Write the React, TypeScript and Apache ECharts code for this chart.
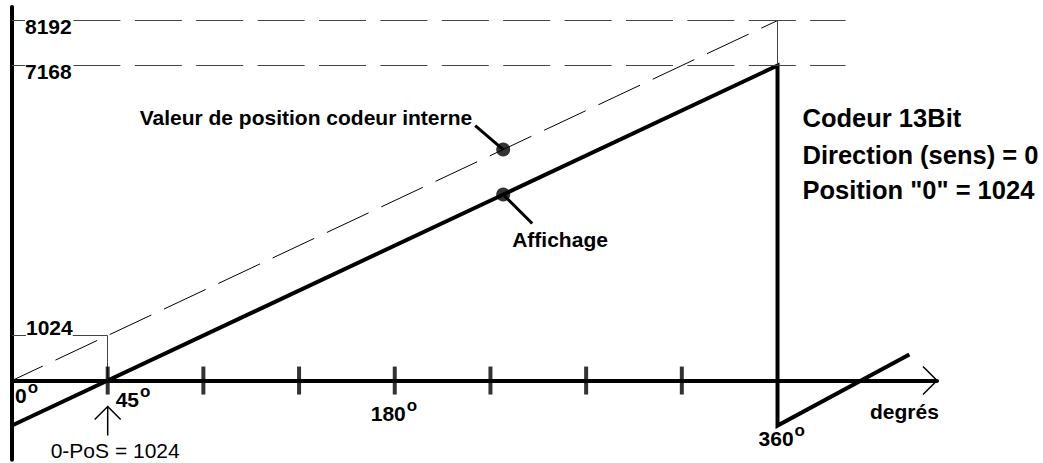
import React, { useEffect, useRef } from 'react';
import * as echarts from 'echarts';

// Degrees along the horizontal axis
const tickDegrees = [45, 90, 135, 180, 225, 270, 315];
const degreeLabelValues = [0, 45, 180, 360];
const degreeLabelTexts = ['0', '45', '180', '360'];

// "Affichage" (displayed value) – thick solid line
const displayDegrees = [0, 360, 360, 422];
const displayValues = [-1024, 7168, -1024, 590];

// "Valeur de position codeur interne" – thin dashed line
const internalDegrees = [0, 360];
const internalValues = [0, 8192];

// Horizontal reference levels
const levelValues = [8192, 7168];
const levelTexts = ['8192', '7168'];
const levelEndDegree = 392;

// Zero position offset
const zeroPosValue = 1024;
const zeroPosText = '1024';
const zeroPosDegree = 45;
const zeroPosCaption = '0-PoS = 1024';

// Marker dots on the two lines
const markerDegree = 231;
const markerInternalValue = 5257;
const markerDisplayValue = 4233;

const infoLines = ['Codeur 13Bit', 'Direction (sens) = 0', 'Position "0" = 1024'];
const internalLabel = 'Valeur de position codeur interne';
const displayLabel = 'Affichage';
const axisTitle = 'degrés';

const X_MIN = 0;
const X_MAX = 435;
const Y_MIN = -1800;
const Y_MAX = 8500;

export default function App() {
  const ref = useRef<HTMLDivElement>(null);

  useEffect(() => {
    if (!ref.current) return;
    const chart = echarts.init(ref.current, null, { renderer: 'svg' });
    const FONT = '"Liberation Sans", Arial, Helvetica, sans-serif';
    const bold = (s: number) => `bold ${s}px ${FONT}`;
    const guideColor = '#444';

    const gridTop = 7;
    const gridHeight = ((Y_MAX - Y_MIN) * 45) / 1024;
    const gridBottom = 463 - gridTop - gridHeight;

    const option: any = {
      animation: false,
      backgroundColor: '#fff',
      grid: {
        left: 12,
        right: 106,
        top: gridTop,
        bottom: gridBottom,
        containLabel: false,
        outerBoundsMode: 'none',
      },
      xAxis: {
        type: 'value',
        min: X_MIN,
        max: X_MAX,
        axisLine: { show: true, onZero: true, lineStyle: { color: '#000', width: 4 } },
        axisTick: { show: false },
        axisLabel: { show: false },
        splitLine: { show: false },
      },
      yAxis: {
        type: 'value',
        min: Y_MIN,
        max: Y_MAX,
        axisLine: { show: true, onZero: true, lineStyle: { color: '#000', width: 4 } },
        axisTick: { show: false },
        axisLabel: { show: false },
        splitLine: { show: false },
      },
      series: [
        {
          type: 'line',
          name: internalLabel,
          silent: true,
          symbol: 'none',
          data: internalDegrees.map((d, i) => [d, internalValues[i]]),
          lineStyle: { color: '#000', width: 1, type: [46, 14], dashOffset: 12 },
          z: 3,
          markLine: {
            silent: true,
            symbol: ['none', 'none'],
            label: { show: false },
            emphasis: { disabled: true },
            lineStyle: { color: guideColor, width: 1, type: [47, 14.4] },
            data: [
              ...levelValues.map((v) => [{ coord: [0, v] }, { coord: [levelEndDegree, v] }]),
              [
                { coord: [0, zeroPosValue], lineStyle: { type: 'solid', color: guideColor, width: 1 } },
                { coord: [zeroPosDegree, zeroPosValue] },
              ],
              [
                { coord: [zeroPosDegree, zeroPosValue], lineStyle: { type: 'solid', color: guideColor, width: 1 } },
                { coord: [zeroPosDegree, 0] },
              ],
              [
                { coord: [360, levelValues[0]], lineStyle: { type: 'solid', color: guideColor, width: 1 } },
                { coord: [360, levelValues[1]] },
              ],
            ],
          },
        },
        {
          type: 'line',
          name: displayLabel,
          silent: true,
          symbol: 'none',
          data: displayDegrees.map((d, i) => [d, displayValues[i]]),
          lineStyle: { color: '#000', width: 4, join: 'miter' },
          z: 4,
        },
        {
          type: 'scatter',
          name: 'ticks',
          silent: true,
          symbol: 'rect',
          symbolSize: [4, 28],
          data: tickDegrees.map((d) => [d, 0]),
          itemStyle: { color: '#000' },
          z: 5,
        },
        {
          type: 'scatter',
          name: 'markers',
          silent: true,
          symbol: 'circle',
          symbolSize: 14,
          data: [
            [markerDegree, markerInternalValue],
            [markerDegree, markerDisplayValue],
          ],
          itemStyle: { color: '#000' },
          z: 6,
        },
      ],
    };
    chart.setOption(option);

    const P = (x: number, y: number) => chart.convertToPixel({ gridIndex: 0 }, [x, y]) as number[];
    const canvas = document.createElement('canvas');
    const ctx = canvas.getContext('2d') as CanvasRenderingContext2D;
    const measure = (t: string, font: string) => {
      ctx.font = font;
      return ctx.measureText(t).width;
    };

    const txt = (text: string, x: number, y: number, font: string, align = 'left', extra: any = {}) => ({
      type: 'text',
      x,
      y,
      z: 100,
      silent: true,
      style: {
        text,
        font,
        fill: '#000',
        textAlign: align,
        textVerticalAlign: 'middle',
        align,
        verticalAlign: 'middle',
        ...extra,
      },
    });
    const seg = (x1: number, y1: number, x2: number, y2: number, w: number) => ({
      type: 'line',
      z: 100,
      silent: true,
      shape: { x1, y1, x2, y2 },
      style: { stroke: '#000', lineWidth: w },
    });
    const poly = (points: number[][], w: number) => ({
      type: 'polyline',
      z: 100,
      silent: true,
      shape: { points },
      style: { stroke: '#000', lineWidth: w, fill: null },
    });

    const els: any[] = [];

    // level labels with white background
    levelValues.forEach((v, i) => {
      const p = P(0, v);
      els.push(txt(levelTexts[i], p[0] + 13, p[1] + 6, bold(21), 'left', { backgroundColor: '#fff', padding: [1, 0] }));
    });
    {
      const p = P(0, zeroPosValue);
      els.push(txt(zeroPosText, p[0] + 14, p[1] - 8, bold(21), 'left', { backgroundColor: '#fff', padding: [1, 0, 3, 0] }));
    }

    // degree labels with superscript "o"
    const dxs = [3, 8, -24, -19];
    const dys = [15, 19, 33, 58];
    degreeLabelValues.forEach((d, i) => {
      const p = P(d, 0);
      const x = p[0] + dxs[i];
      const y = p[1] + dys[i];
      els.push(txt(degreeLabelTexts[i], x, y, bold(21)));
      const w = measure(degreeLabelTexts[i], bold(21));
      els.push(txt('o', x + w + 1, y - 8, bold(17)));
    });

    // axis title and arrow head
    {
      const p = P(X_MAX, 0);
      els.push(txt(axisTitle, p[0] - 67, p[1] + 31, bold(21)));
      els.push(poly([[p[0] - 14, p[1] - 14], [p[0], p[1]], [p[0] - 14, p[1] + 14]], 1.5));
    }

    // zero position arrow and caption
    {
      const p = P(zeroPosDegree, 0);
      els.push(seg(p[0], p[1] + 26, p[0], p[1] + 55, 1.5));
      els.push(poly([[p[0] - 13, p[1] + 39], [p[0], p[1] + 26], [p[0] + 13, p[1] + 39]], 1.5));
      els.push(txt(zeroPosCaption, p[0] - 57, p[1] + 70, `21px ${FONT}`));
    }

    // marker leaders and labels
    {
      const pI = P(markerDegree, markerInternalValue);
      els.push(seg(pI[0] - 28, pI[1] - 24, pI[0], pI[1], 3));
      els.push(txt(internalLabel, pI[0] - 31, pI[1] - 32, bold(21), 'right'));
      const pD = P(markerDegree, markerDisplayValue);
      els.push(seg(pD[0], pD[1], pD[0] + 29, pD[1] + 29, 3));
      els.push(txt(displayLabel, pD[0] + 9, pD[1] + 45, bold(21)));
    }

    // info block
    {
      const p = P(360, levelValues[1]);
      const ys = [118, 155, 190];
      infoLines.forEach((t, i) => {
        els.push(txt(t, p[0] + 25, ys[i], bold(25.5)));
      });
    }

    chart.setOption({ graphic: { elements: els } });

    return () => {
      chart.dispose();
    };
  }, []);

  return (
    <div
      ref={ref}
      style={{ position: 'fixed', left: 0, top: 0, width: 1043, height: 463, background: '#fff' }}
    />
  );
}
